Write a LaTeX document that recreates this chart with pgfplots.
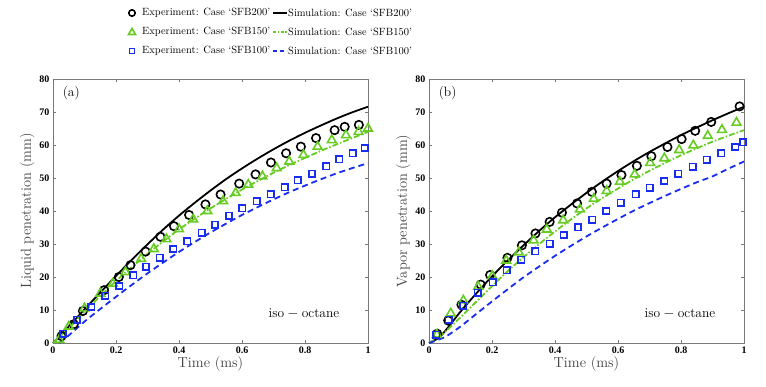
\documentclass[border=0pt]{standalone}
\usepackage{pgfplots}
\pgfplotsset{compat=1.18}
\usepackage{fontspec}
\newfontfamily\tickfont{Liberation Serif}
\definecolor{simgreen}{RGB}{102,204,34}
\definecolor{simblue}{RGB}{25,45,240}
\definecolor{axgray}{RGB}{120,120,120}

\pgfplotsset{
  pen/.style={
    width=315pt, height=264pt, scale only axis,
    xmin=0, xmax=1, ymin=0, ymax=80,
    xtick={0,0.2,...,1}, ytick={0,10,...,80},
    xticklabels={0,0.2,0.4,0.6,0.8,1},
    tick align=inside, tick pos=both, major tick length=3pt,
    axis line style={axgray, line width=0.8pt},
    tick style={axgray, line width=0.6pt},
    /pgf/number format/assume math mode=true,
    tick label style={font=\tickfont\bfseries\fontsize{10}{12}\selectfont, black},
    label style={font=\fontsize{14.5}{17}\selectfont, black!75},
    xlabel={Time (ms)},
    xlabel style={yshift=4pt},
    ylabel style={yshift=-2pt},
    clip=false,
  },
  expc/.style={only marks, mark=o, mark size=4.2pt, black, mark options={line width=1.6pt}},
  expg/.style={only marks, mark=triangle, mark size=5pt, simgreen, mark options={line width=1.6pt}},
  expb/.style={only marks, mark=square, mark size=3.2pt, simblue, mark options={line width=1.6pt}},
  simk/.style={no marks, black, line width=1.8pt, smooth},
  simg/.style={no marks, simgreen, line width=1.8pt, dash pattern=on 6pt off 2pt on 1.5pt off 2pt, smooth},
  simb/.style={no marks, simblue, line width=1.8pt, dash pattern=on 6pt off 4pt, smooth},
}

\begin{document}
\begin{tikzpicture}
\begin{axis}[pen, name=liq, at={(0,0)}, anchor=south west, ylabel={Liquid penetration (mm)}]
  \addplot[simk] coordinates {(0,0) (0.05,5) (0.1,10.2) (0.15,15.3) (0.2,20.3) (0.25,25.2) (0.3,29.9) (0.35,34.4) (0.4,38.6) (0.45,42.5) (0.5,46.2) (0.55,49.7) (0.6,52.9) (0.65,55.9) (0.7,58.7) (0.75,61.3) (0.8,63.7) (0.85,65.9) (0.9,68) (0.95,69.9) (1,71.6)};
  \addplot[simg] coordinates {(0,0) (0.05,4.5) (0.1,9.5) (0.15,14.2) (0.2,18.8) (0.25,23) (0.3,27) (0.35,30.8) (0.4,34.4) (0.45,37.7) (0.5,40.8) (0.55,43.7) (0.6,46.5) (0.65,49.1) (0.7,51.6) (0.75,53.9) (0.8,56.1) (0.85,58.2) (0.9,60.2) (0.95,62.1) (1,64)};
  \addplot[simb] coordinates {(0.02,0) (0.05,2.3) (0.1,6.5) (0.15,10.3) (0.2,14) (0.25,17.6) (0.3,21.1) (0.35,24.4) (0.4,27.6) (0.45,30.6) (0.5,33.5) (0.55,36.2) (0.6,38.8) (0.65,41.2) (0.7,43.5) (0.75,45.7) (0.8,47.7) (0.85,49.6) (0.9,51.4) (0.95,53) (1,54.5)};
  \addplot[expc] coordinates {(0.027,2.1) (0.066,5.7) (0.095,9.7) (0.162,16) (0.209,20) (0.246,23.6) (0.294,27.7) (0.341,32.2) (0.384,35.4) (0.432,38.8) (0.484,42) (0.532,45) (0.591,48.3) (0.643,51.1) (0.692,54.7) (0.74,57.5) (0.787,59.5) (0.835,62.1) (0.894,64.5) (0.926,65.5) (0.971,66.1)};
  \addplot[expg] coordinates {(0.02,1) (0.05,5) (0.1,10.5) (0.15,15) (0.19,18) (0.23,21.5) (0.28,25.5) (0.32,28.5) (0.36,31.5) (0.4,34.5) (0.445,37.5) (0.49,40) (0.54,43) (0.58,45.5) (0.62,48) (0.665,50.5) (0.71,53) (0.75,55) (0.795,57) (0.84,59.5) (0.885,61.5) (0.93,63) (0.97,64) (1,65)};
  \addplot[expb] coordinates {(0.032,2.8) (0.076,7.1) (0.122,10.9) (0.166,14.3) (0.21,17.3) (0.255,20.5) (0.295,23.1) (0.339,25.8) (0.382,28.5) (0.426,30.8) (0.472,33.4) (0.514,35.9) (0.559,38.6) (0.601,40.8) (0.647,43) (0.691,45.1) (0.735,47.2) (0.777,49.3) (0.822,51.3) (0.867,53.6) (0.909,55.7) (0.952,57.5) (0.989,59.1)};
  \node[anchor=north west, font=\fontsize{13.5}{16}\selectfont] at (rel axis cs:0.02,0.985) {(a)};
  \node[anchor=east, font=\fontsize{13.5}{16}\selectfont] at (rel axis cs:0.92,0.11) {$\mathrm{iso-octane}$};
\end{axis}
\begin{axis}[pen, name=vap, at={(376pt,0pt)}, anchor=south west, ylabel={Vapor penetration (mm)}]
  \addplot[simk] coordinates {(0,0) (0.03,1.5) (0.05,3.5) (0.1,9.5) (0.15,15) (0.2,20.2) (0.25,25) (0.3,29.6) (0.35,34) (0.4,38.1) (0.45,41.9) (0.5,45.5) (0.55,48.9) (0.6,52.1) (0.65,55.1) (0.7,57.9) (0.75,60.5) (0.8,63) (0.85,65.3) (0.9,67.5) (0.95,69.6) (1,71.6)};
  \addplot[simg] coordinates {(0,0) (0.05,3.3) (0.1,7.8) (0.15,12.5) (0.2,17.2) (0.25,21.8) (0.3,26) (0.35,30) (0.4,33.8) (0.45,37.4) (0.5,40.8) (0.55,43.9) (0.6,46.8) (0.65,49.6) (0.7,52.2) (0.75,54.6) (0.8,56.9) (0.85,59) (0.9,61) (0.95,62.8) (1,64.5)};
  \addplot[simb] coordinates {(0,0) (0.05,1.8) (0.1,5) (0.15,8.8) (0.2,12.6) (0.25,16.3) (0.3,19.9) (0.35,23.2) (0.4,26.4) (0.45,29.4) (0.5,32.3) (0.55,35) (0.6,37.6) (0.65,40.1) (0.7,42.4) (0.75,44.6) (0.8,46.7) (0.85,48.7) (0.9,50.5) (0.95,52.8) (1,55)};
  \addplot[expc] coordinates {(0.026,2.8) (0.061,6.8) (0.103,11.6) (0.164,17.7) (0.194,20.6) (0.249,25.8) (0.295,29.6) (0.338,33.2) (0.383,36.7) (0.422,39.5) (0.47,42.3) (0.517,45.8) (0.564,48.3) (0.611,50.9) (0.66,53.7) (0.706,56.6) (0.757,59.4) (0.802,61.8) (0.845,64.3) (0.896,67) (0.986,71.7)};
  \addplot[expg] coordinates {(0.025,2.5) (0.069,9) (0.109,12.9) (0.156,17.1) (0.201,20.3) (0.245,25) (0.285,27.5) (0.332,31.1) (0.374,34.4) (0.426,37.2) (0.479,40.5) (0.523,43.7) (0.564,46.1) (0.606,48.9) (0.653,51.1) (0.702,54.6) (0.747,56) (0.794,58.5) (0.839,59.9) (0.885,62.8) (0.93,64.6) (0.976,66.8)};
  \addplot[expb] coordinates {(0.023,2.5) (0.063,7.1) (0.109,11.3) (0.154,15.2) (0.202,18.4) (0.247,22) (0.293,25.2) (0.337,27.8) (0.383,30.1) (0.428,32.7) (0.473,35.1) (0.518,37.4) (0.563,40) (0.609,42.5) (0.656,45.1) (0.701,47.1) (0.747,49.1) (0.791,51.3) (0.837,53.4) (0.882,55.5) (0.928,57.5) (0.972,59.4) (0.997,60.8)};
  \node[anchor=north west, font=\fontsize{13.5}{16}\selectfont] at (rel axis cs:0.02,0.985) {(b)};
  \node[anchor=east, font=\fontsize{13.5}{16}\selectfont] at (rel axis cs:0.92,0.11) {$\mathrm{iso-octane}$};
\end{axis}
% legend (coordinates relative to the lower left corner of panel (a))
\begin{scope}[font=\fontsize{10.5}{12.5}\selectfont]
  \draw[black, line width=1.6pt] (79pt,330pt) circle (3.2pt);
  \node[anchor=west, inner sep=0pt] at (89pt,330pt) {Experiment: Case `SFB200'};
  \draw[black, line width=1.8pt] (220pt,330pt) -- (234pt,330pt);
  \node[anchor=west, inner sep=0pt] at (235pt,330pt) {Simulation: Case `SFB200'};
  \draw[simgreen, line width=1.6pt] (75.5pt,308.5pt) -- (82.5pt,308.5pt) -- (79pt,314.5pt) -- cycle;
  \node[anchor=west, inner sep=0pt] at (89pt,311pt) {Experiment: Case `SFB150'};
  \draw[simgreen, line width=1.8pt, dash pattern=on 3pt off 1.5pt on 1.5pt off 1.5pt] (220pt,311pt) -- (234pt,311pt);
  \node[anchor=west, inner sep=0pt] at (235pt,311pt) {Simulation: Case `SFB150'};
  \draw[simblue, line width=1.6pt] (76.5pt,289.5pt) rectangle (81.5pt,294.5pt);
  \node[anchor=west, inner sep=0pt] at (89pt,292pt) {Experiment: Case `SFB100'};
  \draw[simblue, line width=1.8pt, dash pattern=on 4pt off 3pt] (220pt,292pt) -- (234pt,292pt);
  \node[anchor=west, inner sep=0pt] at (235pt,292pt) {Simulation: Case `SFB100'};
\end{scope}
\pgfresetboundingbox
\useasboundingbox (-53pt,-43pt) rectangle (713pt,343pt);
\end{tikzpicture}
\end{document}
